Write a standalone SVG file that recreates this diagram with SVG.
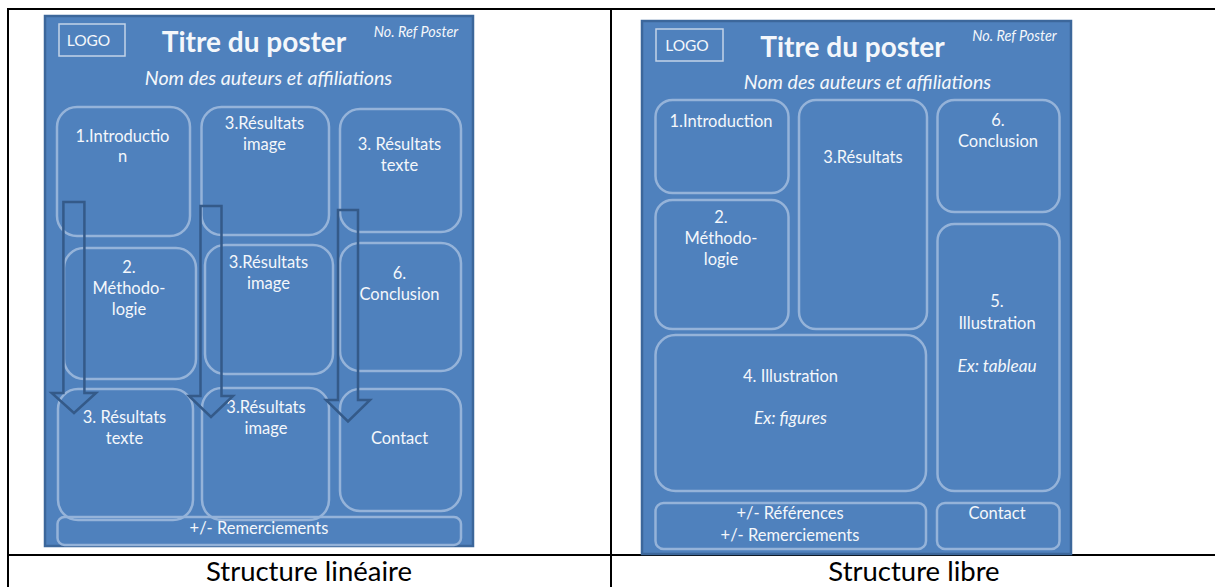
<svg xmlns="http://www.w3.org/2000/svg" width="1215" height="587" viewBox="0 0 1215 587">
<style>
.bg{fill:#ffffff}
.grid{stroke:#000000;stroke-width:2;fill:none}
.poster{fill:#4F81BD;stroke:#3C679B;stroke-width:2.5}
.box{fill:none;stroke:#95B3D9;stroke-width:2.5}
.logo{fill:none;stroke:#C3D3E8;stroke-width:1.5}
.arrow{fill:none;stroke:#345A89;stroke-width:2.5;stroke-linejoin:miter}
text{font-family:Lato,"Liberation Sans",sans-serif;fill:#F4F7FB;text-anchor:middle}
.t{font-size:16.5px}
.ti{font-size:17.2px;font-style:italic}
.title{font-size:28px;font-weight:bold}
.sub{font-size:19.6px;font-style:italic}
.ref{font-size:14.4px;font-style:italic}
.lg{font-size:15.5px}
.cap{font-size:27.5px;fill:#000000}
</style>
<rect class="bg" x="0" y="0" width="1215" height="587"/>
<g id="table">
<line class="grid" x1="7" y1="9" x2="1215" y2="9"/>
<line class="grid" x1="8" y1="8" x2="8" y2="587"/>
<line class="grid" x1="611" y1="9" x2="611" y2="587"/>
<line class="grid" x1="7" y1="555" x2="1215" y2="555"/>
</g>
<g id="poster-lineaire">
<rect class="poster" x="45" y="16" width="428" height="530"/>
<g id="l-logo"><rect class="logo" x="59" y="24" width="66" height="32"/><text class="lg" x="88.5" y="46">LOGO</text></g>
<g id="l-title"><text class="title" x="254" y="52">Titre du poster</text></g>
<g id="l-ref"><text class="ref" x="416" y="37">No. Ref Poster</text></g>
<g id="l-authors"><text class="sub" x="268.5" y="85">Nom des auteurs et affiliations</text></g>
<g id="l-intro"><rect class="box" x="57" y="107" width="133" height="129" rx="20"/><text class="t" x="122.5" y="142">1.Introductio</text><text class="t" x="122.5" y="162">n</text></g>
<g id="l-res1"><rect class="box" x="201.5" y="107" width="127.5" height="128" rx="20"/><text class="t" x="264.5" y="129">3.Résultats</text><text class="t" x="264.5" y="150">image</text></g>
<g id="l-res2"><rect class="box" x="340" y="109" width="121" height="123" rx="20"/><text class="t" x="399.5" y="150">3. Résultats</text><text class="t" x="399.5" y="171">texte</text></g>
<g id="l-metho"><rect class="box" x="64" y="248" width="132" height="131" rx="20"/><text class="t" x="129" y="273">2.</text><text class="t" x="129" y="294">Méthodo-</text><text class="t" x="129" y="315">logie</text></g>
<g id="l-res3"><rect class="box" x="205" y="245" width="128" height="129" rx="20"/><text class="t" x="268.5" y="268">3.Résultats</text><text class="t" x="268.5" y="289">image</text></g>
<g id="l-concl"><rect class="box" x="340" y="243" width="121" height="128" rx="20"/><text class="t" x="399.5" y="279">6.</text><text class="t" x="399.5" y="300">Conclusion</text></g>
<g id="l-res4"><rect class="box" x="58" y="389" width="135" height="131" rx="20"/><text class="t" x="124.5" y="423">3. Résultats</text><text class="t" x="124.5" y="444">texte</text></g>
<g id="l-res5"><rect class="box" x="202" y="388" width="127" height="132" rx="20"/><text class="t" x="266" y="413">3.Résultats</text><text class="t" x="266" y="434">image</text></g>
<g id="l-contact"><rect class="box" x="340" y="389" width="121" height="122" rx="20"/><text class="t" x="399.5" y="444">Contact</text></g>
<g id="l-remerc"><rect class="box" x="57.5" y="517" width="403.5" height="28" rx="7"/><text class="t" x="259" y="534">+/- Remerciements</text></g>
</g>
<g id="connectors">
<path class="arrow" d="M63.4,202 H84.4 V393 H96 L74,413 L51.7,393 H63.4 Z"/>
<path class="arrow" d="M200.5,206 H221.5 V396 H233 L211,417 L189,396 H200.5 Z"/>
<path class="arrow" d="M338,210 H358 V400 H370 L348,421.5 L326,400 H338 Z"/>
</g>
<g id="poster-libre">
<rect class="poster" x="642" y="21" width="429" height="533"/>
<g id="r-logo"><rect class="logo" x="656" y="29" width="67" height="32"/><text class="lg" x="687" y="51">LOGO</text></g>
<g id="r-title"><text class="title" x="852.5" y="57">Titre du poster</text></g>
<g id="r-ref"><text class="ref" x="1014.5" y="41">No. Ref Poster</text></g>
<g id="r-authors"><text class="sub" x="867.5" y="89">Nom des auteurs et affiliations</text></g>
<g id="r-intro"><rect class="box" x="655.5" y="100" width="133" height="93" rx="17"/><text class="t" x="721" y="127">1.Introduction</text></g>
<g id="r-res"><rect class="box" x="799" y="100" width="128" height="229" rx="17"/><text class="t" x="863" y="163">3.Résultats</text></g>
<g id="r-concl"><rect class="box" x="937.5" y="100" width="122" height="112" rx="17"/><text class="t" x="998" y="126">6.</text><text class="t" x="998" y="147">Conclusion</text></g>
<g id="r-metho"><rect class="box" x="655.5" y="200" width="133" height="129" rx="17"/><text class="t" x="721" y="223">2.</text><text class="t" x="721" y="244">Méthodo-</text><text class="t" x="721" y="265">logie</text></g>
<g id="r-illus5"><rect class="box" x="937.5" y="224" width="122" height="267" rx="17"/><text class="t" x="997" y="307">5.</text><text class="t" x="997" y="329">Illustration</text><text class="ti" x="997" y="372">Ex: tableau</text></g>
<g id="r-illus4"><rect class="box" x="655.5" y="335" width="270.5" height="156" rx="20"/><text class="t" x="790.5" y="382">4. Illustration</text><text class="ti" x="790.5" y="424">Ex: figures</text></g>
<g id="r-refs"><rect class="box" x="655.5" y="503" width="270.5" height="46" rx="8"/><text class="t" x="790" y="519">+/- Références</text><text class="t" x="790" y="541">+/- Remerciements</text></g>
<g id="r-contact"><rect class="box" x="937" y="503" width="122.5" height="46" rx="8"/><text class="t" x="997" y="519">Contact</text></g>
</g>
<g id="captions">
<text class="cap" x="309" y="581">Structure linéaire</text>
<text class="cap" x="914" y="581">Structure libre</text>
</g>
</svg>
